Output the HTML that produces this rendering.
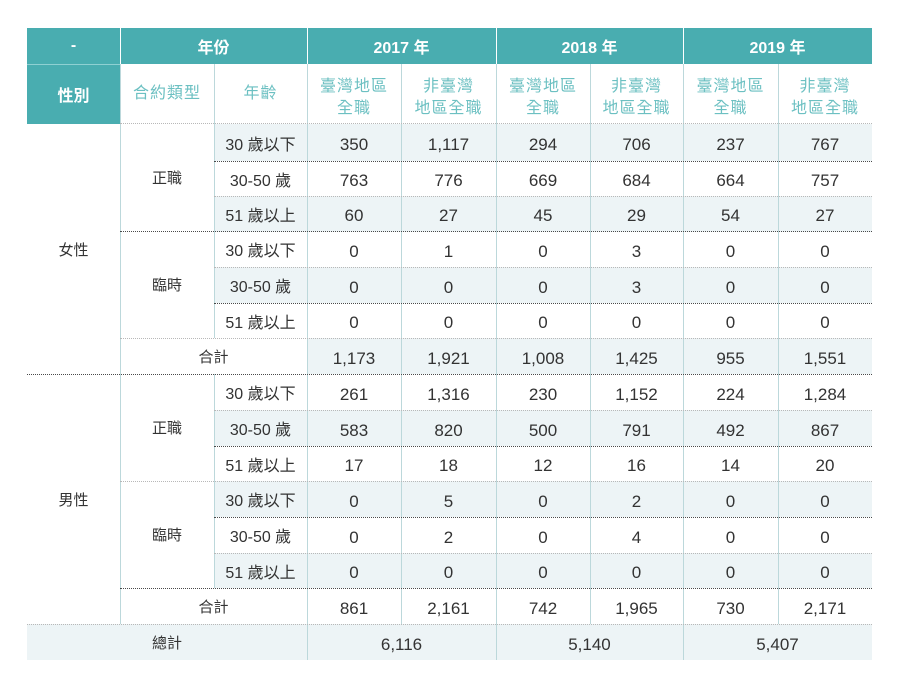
<!DOCTYPE html>
<html><head><meta charset="utf-8"><style>
*{margin:0;padding:0;box-sizing:border-box}
html,body{width:900px;height:685px;background:#fff;overflow:hidden}
body{position:relative;font-family:"Liberation Sans","Noto Sans CJK TC",sans-serif;color:#333}
.a{position:absolute}
.t{position:absolute;display:flex;align-items:center;justify-content:center;text-align:center;font-size:16px;white-space:nowrap}
.a .t{font-size:17px;padding-top:5px;line-height:20px}
.teal{background:#49adb0}
.sh{position:absolute;background:#edf4f6}
.vl{position:absolute;width:1px;background:#bcd8db}
.vw{position:absolute;width:1px;background:#fff}
.dd{position:absolute;height:0;border-top:1px dotted #4a4a4a}
.dl{position:absolute;height:0;border-top:1px dotted #b8b8b8}
.h1{color:#fff;font-weight:bold;font-size:16px}
.h2{color:#6cc0c2;font-size:16px;letter-spacing:1px;line-height:22px}
.lb{font-size:15px}
</style></head><body>
<!-- header backgrounds -->
<div class="teal" style="position:absolute;left:27px;top:28px;width:845px;height:36px"></div>
<div class="teal" style="position:absolute;left:27px;top:64px;width:93px;height:60px"></div>
<div style="position:absolute;left:27px;top:64px;width:93px;height:1px;background:#8fd0d2"></div>
<div class="vw" style="left:120px;top:28px;height:36px"></div>
<div class="vw" style="left:307px;top:28px;height:36px"></div>
<div class="vw" style="left:496px;top:28px;height:36px"></div>
<div class="vw" style="left:683px;top:28px;height:36px"></div>

<!-- shaded rows -->
<div class="sh" style="left:214px;top:124px;width:658px;height:37px"></div>
<div class="sh" style="left:214px;top:196px;width:658px;height:36px"></div>
<div class="sh" style="left:214px;top:267px;width:658px;height:36px"></div>
<div class="sh" style="left:307px;top:338px;width:565px;height:36px"></div>
<div class="sh" style="left:214px;top:410px;width:658px;height:36px"></div>
<div class="sh" style="left:214px;top:481px;width:658px;height:36px"></div>
<div class="sh" style="left:214px;top:553px;width:658px;height:35px"></div>
<div class="sh" style="left:27px;top:624px;width:845px;height:36px"></div>

<!-- vertical lines -->
<div class="vl" style="left:120px;top:64px;height:560px"></div>
<div class="vl" style="left:214px;top:64px;height:274px"></div>
<div class="vl" style="left:214px;top:374px;height:214px"></div>
<div class="vl" style="left:307px;top:64px;height:596px"></div>
<div class="vl" style="left:401px;top:64px;height:560px"></div>
<div class="vl" style="left:496px;top:64px;height:596px"></div>
<div class="vl" style="left:590px;top:64px;height:560px"></div>
<div class="vl" style="left:683px;top:64px;height:596px"></div>
<div class="vl" style="left:778px;top:64px;height:560px"></div>

<!-- horizontal dotted lines -->
<div class="dl" style="left:120px;top:123px;width:752px"></div>
<div class="dd" style="left:214px;top:161px;width:658px"></div>
<div class="dl" style="left:214px;top:196px;width:658px"></div>
<div class="dd" style="left:120px;top:231px;width:752px"></div>
<div class="dl" style="left:214px;top:267px;width:658px"></div>
<div class="dd" style="left:214px;top:303px;width:658px"></div>
<div class="dl" style="left:120px;top:338px;width:752px"></div>
<div class="dd" style="left:27px;top:374px;width:845px"></div>
<div class="dl" style="left:214px;top:410px;width:658px"></div>
<div class="dd" style="left:214px;top:446px;width:658px"></div>
<div class="dl" style="left:120px;top:481px;width:752px"></div>
<div class="dd" style="left:214px;top:517px;width:658px"></div>
<div class="dl" style="left:214px;top:553px;width:658px"></div>
<div class="dd" style="left:120px;top:588px;width:752px"></div>
<div class="dl" style="left:27px;top:624px;width:845px"></div>

<!-- header row 1 text -->
<div class="t h1" style="left:27px;top:28px;width:93px;height:36px">-</div>
<div class="t h1" style="left:120px;top:28px;width:187px;height:36px">年份</div>
<div class="t h1" style="left:307px;top:28px;width:189px;height:36px">2017 年</div>
<div class="t h1" style="left:496px;top:28px;width:187px;height:36px">2018 年</div>
<div class="t h1" style="left:683px;top:28px;width:189px;height:36px">2019 年</div>

<!-- header row 2 text -->
<div class="t h1" style="left:27px;top:64px;width:93px;height:60px">性別</div>
<div class="t h2" style="left:120px;top:64px;width:94px;height:60px">合約類型</div>
<div class="t h2" style="left:214px;top:64px;width:93px;height:60px">年齡</div>
<div class="t h2" style="left:307px;top:68px;width:94px;height:60px">臺灣地區<br>全職</div>
<div class="t h2" style="left:401px;top:68px;width:95px;height:60px">非臺灣<br>地區全職</div>
<div class="t h2" style="left:496px;top:68px;width:94px;height:60px">臺灣地區<br>全職</div>
<div class="t h2" style="left:590px;top:68px;width:93px;height:60px">非臺灣<br>地區全職</div>
<div class="t h2" style="left:683px;top:68px;width:95px;height:60px">臺灣地區<br>全職</div>
<div class="t h2" style="left:778px;top:68px;width:94px;height:60px">非臺灣<br>地區全職</div>

<!-- group labels -->
<div class="t lb" style="left:27px;top:124px;width:93px;height:250px">女性</div>
<div class="t lb" style="left:120px;top:124px;width:94px;height:107px">正職</div>
<div class="t lb" style="left:120px;top:231px;width:94px;height:107px">臨時</div>
<div class="t lb" style="left:120px;top:338px;width:187px;height:36px">合計</div>
<div class="t lb" style="left:27px;top:374px;width:93px;height:250px">男性</div>
<div class="t lb" style="left:120px;top:374px;width:94px;height:107px">正職</div>
<div class="t lb" style="left:120px;top:481px;width:94px;height:107px">臨時</div>
<div class="t lb" style="left:120px;top:588px;width:187px;height:36px">合計</div>
<div class="t lb" style="left:27px;top:624px;width:280px;height:36px">總計</div>

<!-- age labels -->
<div class="t" style="left:214px;top:125px;width:93px;height:36px">30 歲以下</div>
<div class="t" style="left:214px;top:161px;width:93px;height:35px">30-50 歲</div>
<div class="t" style="left:214px;top:196px;width:93px;height:36px">51 歲以上</div>
<div class="t" style="left:214px;top:231px;width:93px;height:36px">30 歲以下</div>
<div class="t" style="left:214px;top:267px;width:93px;height:36px">30-50 歲</div>
<div class="t" style="left:214px;top:303px;width:93px;height:35px">51 歲以上</div>
<div class="t" style="left:214px;top:374px;width:93px;height:36px">30 歲以下</div>
<div class="t" style="left:214px;top:410px;width:93px;height:36px">30-50 歲</div>
<div class="t" style="left:214px;top:446px;width:93px;height:35px">51 歲以上</div>
<div class="t" style="left:214px;top:481px;width:93px;height:36px">30 歲以下</div>
<div class="t" style="left:214px;top:517px;width:93px;height:36px">30-50 歲</div>
<div class="t" style="left:214px;top:553px;width:93px;height:35px">51 歲以上</div>

<!-- data rows -->
<div class="a" style="left:0;top:124px;width:900px;height:37px">
<div class="t" style="left:307px;width:94px;height:37px">350</div><div class="t" style="left:401px;width:95px;height:37px">1,117</div><div class="t" style="left:496px;width:94px;height:37px">294</div><div class="t" style="left:590px;width:93px;height:37px">706</div><div class="t" style="left:683px;width:95px;height:37px">237</div><div class="t" style="left:778px;width:94px;height:37px">767</div></div>
<div class="a" style="left:0;top:161px;width:900px;height:35px">
<div class="t" style="left:307px;width:94px;height:35px">763</div><div class="t" style="left:401px;width:95px;height:35px">776</div><div class="t" style="left:496px;width:94px;height:35px">669</div><div class="t" style="left:590px;width:93px;height:35px">684</div><div class="t" style="left:683px;width:95px;height:35px">664</div><div class="t" style="left:778px;width:94px;height:35px">757</div></div>
<div class="a" style="left:0;top:196px;width:900px;height:35px">
<div class="t" style="left:307px;width:94px;height:35px">60</div><div class="t" style="left:401px;width:95px;height:35px">27</div><div class="t" style="left:496px;width:94px;height:35px">45</div><div class="t" style="left:590px;width:93px;height:35px">29</div><div class="t" style="left:683px;width:95px;height:35px">54</div><div class="t" style="left:778px;width:94px;height:35px">27</div></div>
<div class="a" style="left:0;top:231px;width:900px;height:36px">
<div class="t" style="left:307px;width:94px;height:36px">0</div><div class="t" style="left:401px;width:95px;height:36px">1</div><div class="t" style="left:496px;width:94px;height:36px">0</div><div class="t" style="left:590px;width:93px;height:36px">3</div><div class="t" style="left:683px;width:95px;height:36px">0</div><div class="t" style="left:778px;width:94px;height:36px">0</div></div>
<div class="a" style="left:0;top:267px;width:900px;height:36px">
<div class="t" style="left:307px;width:94px;height:36px">0</div><div class="t" style="left:401px;width:95px;height:36px">0</div><div class="t" style="left:496px;width:94px;height:36px">0</div><div class="t" style="left:590px;width:93px;height:36px">3</div><div class="t" style="left:683px;width:95px;height:36px">0</div><div class="t" style="left:778px;width:94px;height:36px">0</div></div>
<div class="a" style="left:0;top:303px;width:900px;height:35px">
<div class="t" style="left:307px;width:94px;height:35px">0</div><div class="t" style="left:401px;width:95px;height:35px">0</div><div class="t" style="left:496px;width:94px;height:35px">0</div><div class="t" style="left:590px;width:93px;height:35px">0</div><div class="t" style="left:683px;width:95px;height:35px">0</div><div class="t" style="left:778px;width:94px;height:35px">0</div></div>
<div class="a" style="left:0;top:338px;width:900px;height:36px">
<div class="t" style="left:307px;width:94px;height:36px">1,173</div><div class="t" style="left:401px;width:95px;height:36px">1,921</div><div class="t" style="left:496px;width:94px;height:36px">1,008</div><div class="t" style="left:590px;width:93px;height:36px">1,425</div><div class="t" style="left:683px;width:95px;height:36px">955</div><div class="t" style="left:778px;width:94px;height:36px">1,551</div></div>
<div class="a" style="left:0;top:374px;width:900px;height:36px">
<div class="t" style="left:307px;width:94px;height:36px">261</div><div class="t" style="left:401px;width:95px;height:36px">1,316</div><div class="t" style="left:496px;width:94px;height:36px">230</div><div class="t" style="left:590px;width:93px;height:36px">1,152</div><div class="t" style="left:683px;width:95px;height:36px">224</div><div class="t" style="left:778px;width:94px;height:36px">1,284</div></div>
<div class="a" style="left:0;top:410px;width:900px;height:36px">
<div class="t" style="left:307px;width:94px;height:36px">583</div><div class="t" style="left:401px;width:95px;height:36px">820</div><div class="t" style="left:496px;width:94px;height:36px">500</div><div class="t" style="left:590px;width:93px;height:36px">791</div><div class="t" style="left:683px;width:95px;height:36px">492</div><div class="t" style="left:778px;width:94px;height:36px">867</div></div>
<div class="a" style="left:0;top:446px;width:900px;height:35px">
<div class="t" style="left:307px;width:94px;height:35px">17</div><div class="t" style="left:401px;width:95px;height:35px">18</div><div class="t" style="left:496px;width:94px;height:35px">12</div><div class="t" style="left:590px;width:93px;height:35px">16</div><div class="t" style="left:683px;width:95px;height:35px">14</div><div class="t" style="left:778px;width:94px;height:35px">20</div></div>
<div class="a" style="left:0;top:481px;width:900px;height:36px">
<div class="t" style="left:307px;width:94px;height:36px">0</div><div class="t" style="left:401px;width:95px;height:36px">5</div><div class="t" style="left:496px;width:94px;height:36px">0</div><div class="t" style="left:590px;width:93px;height:36px">2</div><div class="t" style="left:683px;width:95px;height:36px">0</div><div class="t" style="left:778px;width:94px;height:36px">0</div></div>
<div class="a" style="left:0;top:517px;width:900px;height:36px">
<div class="t" style="left:307px;width:94px;height:36px">0</div><div class="t" style="left:401px;width:95px;height:36px">2</div><div class="t" style="left:496px;width:94px;height:36px">0</div><div class="t" style="left:590px;width:93px;height:36px">4</div><div class="t" style="left:683px;width:95px;height:36px">0</div><div class="t" style="left:778px;width:94px;height:36px">0</div></div>
<div class="a" style="left:0;top:553px;width:900px;height:35px">
<div class="t" style="left:307px;width:94px;height:35px">0</div><div class="t" style="left:401px;width:95px;height:35px">0</div><div class="t" style="left:496px;width:94px;height:35px">0</div><div class="t" style="left:590px;width:93px;height:35px">0</div><div class="t" style="left:683px;width:95px;height:35px">0</div><div class="t" style="left:778px;width:94px;height:35px">0</div></div>
<div class="a" style="left:0;top:588px;width:900px;height:36px">
<div class="t" style="left:307px;width:94px;height:36px">861</div><div class="t" style="left:401px;width:95px;height:36px">2,161</div><div class="t" style="left:496px;width:94px;height:36px">742</div><div class="t" style="left:590px;width:93px;height:36px">1,965</div><div class="t" style="left:683px;width:95px;height:36px">730</div><div class="t" style="left:778px;width:94px;height:36px">2,171</div></div>
<div class="a" style="left:0;top:624px;width:900px;height:36px">
<div class="t" style="left:307px;width:189px;height:36px">6,116</div><div class="t" style="left:496px;width:187px;height:36px">5,140</div><div class="t" style="left:683px;width:189px;height:36px">5,407</div></div>
</body></html>
